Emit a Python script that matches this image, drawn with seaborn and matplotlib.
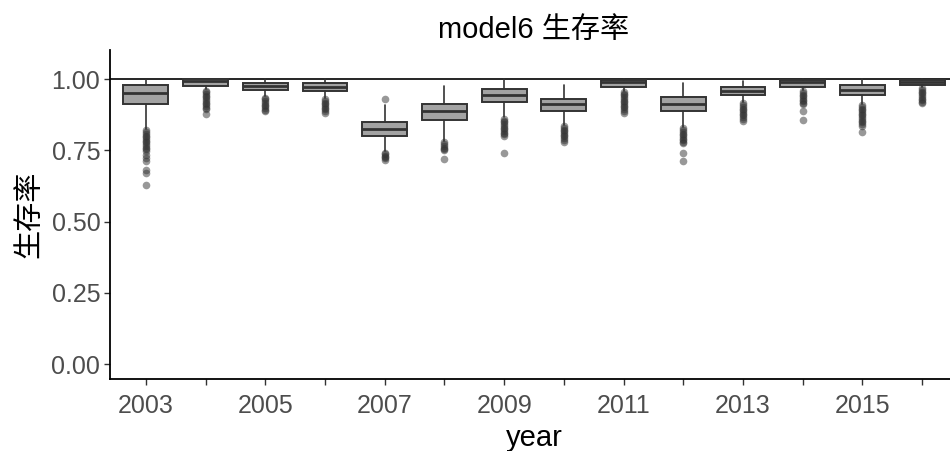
import numpy as np
import matplotlib
matplotlib.use("Agg")
import matplotlib.pyplot as plt
import seaborn as sns

# Box statistics per year
years = list(range(2003, 2017))
q1 = [0.914, 0.976, 0.962, 0.958, 0.800, 0.856, 0.920, 0.890, 0.972, 0.888, 0.944, 0.974, 0.946, 0.979]
med = [0.952, 0.992, 0.975, 0.972, 0.826, 0.890, 0.946, 0.914, 0.990, 0.914, 0.960, 0.990, 0.963, 0.990]
q3 = [0.978, 0.999, 0.987, 0.986, 0.851, 0.914, 0.964, 0.931, 0.998, 0.937, 0.974, 0.998, 0.981, 0.998]
whis_lo = [0.826, 0.966, 0.940, 0.935, 0.748, 0.783, 0.867, 0.840, 0.960, 0.832, 0.920, 0.963, 0.914, 0.972]
whis_hi = [0.998, 1.000, 1.000, 0.999, 0.911, 0.976, 1.000, 0.979, 1.000, 0.987, 0.995, 1.000, 1.000, 1.000]
outliers = [
    [0.820, 0.814, 0.808, 0.802, 0.796, 0.790, 0.784, 0.778, 0.772, 0.766, 0.760, 0.754,
     0.748, 0.735, 0.725, 0.713, 0.680, 0.672, 0.628],
    [0.960, 0.954, 0.948, 0.942, 0.936, 0.930, 0.924, 0.918, 0.912, 0.906, 0.900, 0.895, 0.878],
    [0.935, 0.929, 0.923, 0.917, 0.911, 0.905, 0.899, 0.893, 0.890],
    [0.930, 0.924, 0.918, 0.912, 0.906, 0.900, 0.894, 0.888, 0.882],
    [0.932, 0.742, 0.737, 0.732, 0.727, 0.722, 0.717],
    [0.778, 0.772, 0.766, 0.760, 0.754, 0.750, 0.720],
    [0.860, 0.854, 0.848, 0.842, 0.836, 0.830, 0.824, 0.818, 0.812, 0.806, 0.800, 0.742],
    [0.835, 0.829, 0.823, 0.817, 0.811, 0.805, 0.799, 0.793, 0.787, 0.781],
    [0.955, 0.949, 0.943, 0.937, 0.931, 0.925, 0.919, 0.913, 0.907, 0.901, 0.895, 0.889, 0.883],
    [0.827, 0.821, 0.815, 0.809, 0.803, 0.797, 0.791, 0.785, 0.779, 0.775, 0.740, 0.713],
    [0.915, 0.909, 0.903, 0.897, 0.891, 0.885, 0.879, 0.873, 0.867, 0.861, 0.855],
    [0.958, 0.952, 0.946, 0.940, 0.934, 0.928, 0.922, 0.916, 0.912, 0.890, 0.857],
    [0.909, 0.903, 0.897, 0.891, 0.885, 0.879, 0.873, 0.867, 0.861, 0.855, 0.849, 0.843, 0.836, 0.816],
    [0.968, 0.962, 0.956, 0.950, 0.944, 0.938, 0.932, 0.926, 0.920, 0.918],
]

sns.set_theme(style="ticks")
plt.rcParams['font.family'] = ['Liberation Sans', 'Noto Sans CJK SC', 'DejaVu Sans']

stats = []
for i, y in enumerate(years):
    stats.append({
        'label': str(y), 'q1': q1[i], 'med': med[i], 'q3': q3[i],
        'whislo': whis_lo[i], 'whishi': whis_hi[i], 'fliers': outliers[i],
    })

fig = plt.figure(figsize=(9.5, 4.51), dpi=100)
ax = fig.add_axes([110 / 950, 72 / 451, 848 / 950, 329 / 451])

edge = '#333333'
ax.bxp(stats, positions=range(len(years)), widths=0.75, patch_artist=True,
       showcaps=False,
       boxprops=dict(facecolor='#a3a3a3', edgecolor=edge, linewidth=1.4),
       medianprops=dict(color=edge, linewidth=2.0),
       whiskerprops=dict(color=edge, linewidth=1.2),
       flierprops=dict(marker='o', markerfacecolor=edge, markeredgecolor='none',
                       markersize=5.5, alpha=0.5))

ax.axhline(1.0, color='black', linewidth=1.2, zorder=0.5)

ax.set_xlim(-0.6, 13.6)
ax.set_ylim(-0.0525, 1.1025)
ax.set_yticks([0, 0.25, 0.5, 0.75, 1.0])
ax.set_yticklabels(['0.00', '0.25', '0.50', '0.75', '1.00'])
ax.set_xticks(range(len(years)))
ax.set_xticklabels([str(y) if (y - 2003) % 2 == 0 else '' for y in years])

ax.tick_params(axis='both', labelsize=18, labelcolor='#4d4d4d', color='#333333',
               length=4, width=1.0)
ax.tick_params(axis='x', pad=7)
ax.tick_params(axis='y', pad=3)
for s in ['left', 'bottom']:
    ax.spines[s].set_linewidth(1.3)
    ax.spines[s].set_color('black')
sns.despine(ax=ax)

ax.set_xlabel('year', fontsize=21, color='black', labelpad=4)
ax.set_ylabel('生存率', fontsize=21, color='black', labelpad=6)
ax.set_title('model6 生存率', fontsize=21, color='black', pad=9)

fig.savefig('out.png', dpi=100)
